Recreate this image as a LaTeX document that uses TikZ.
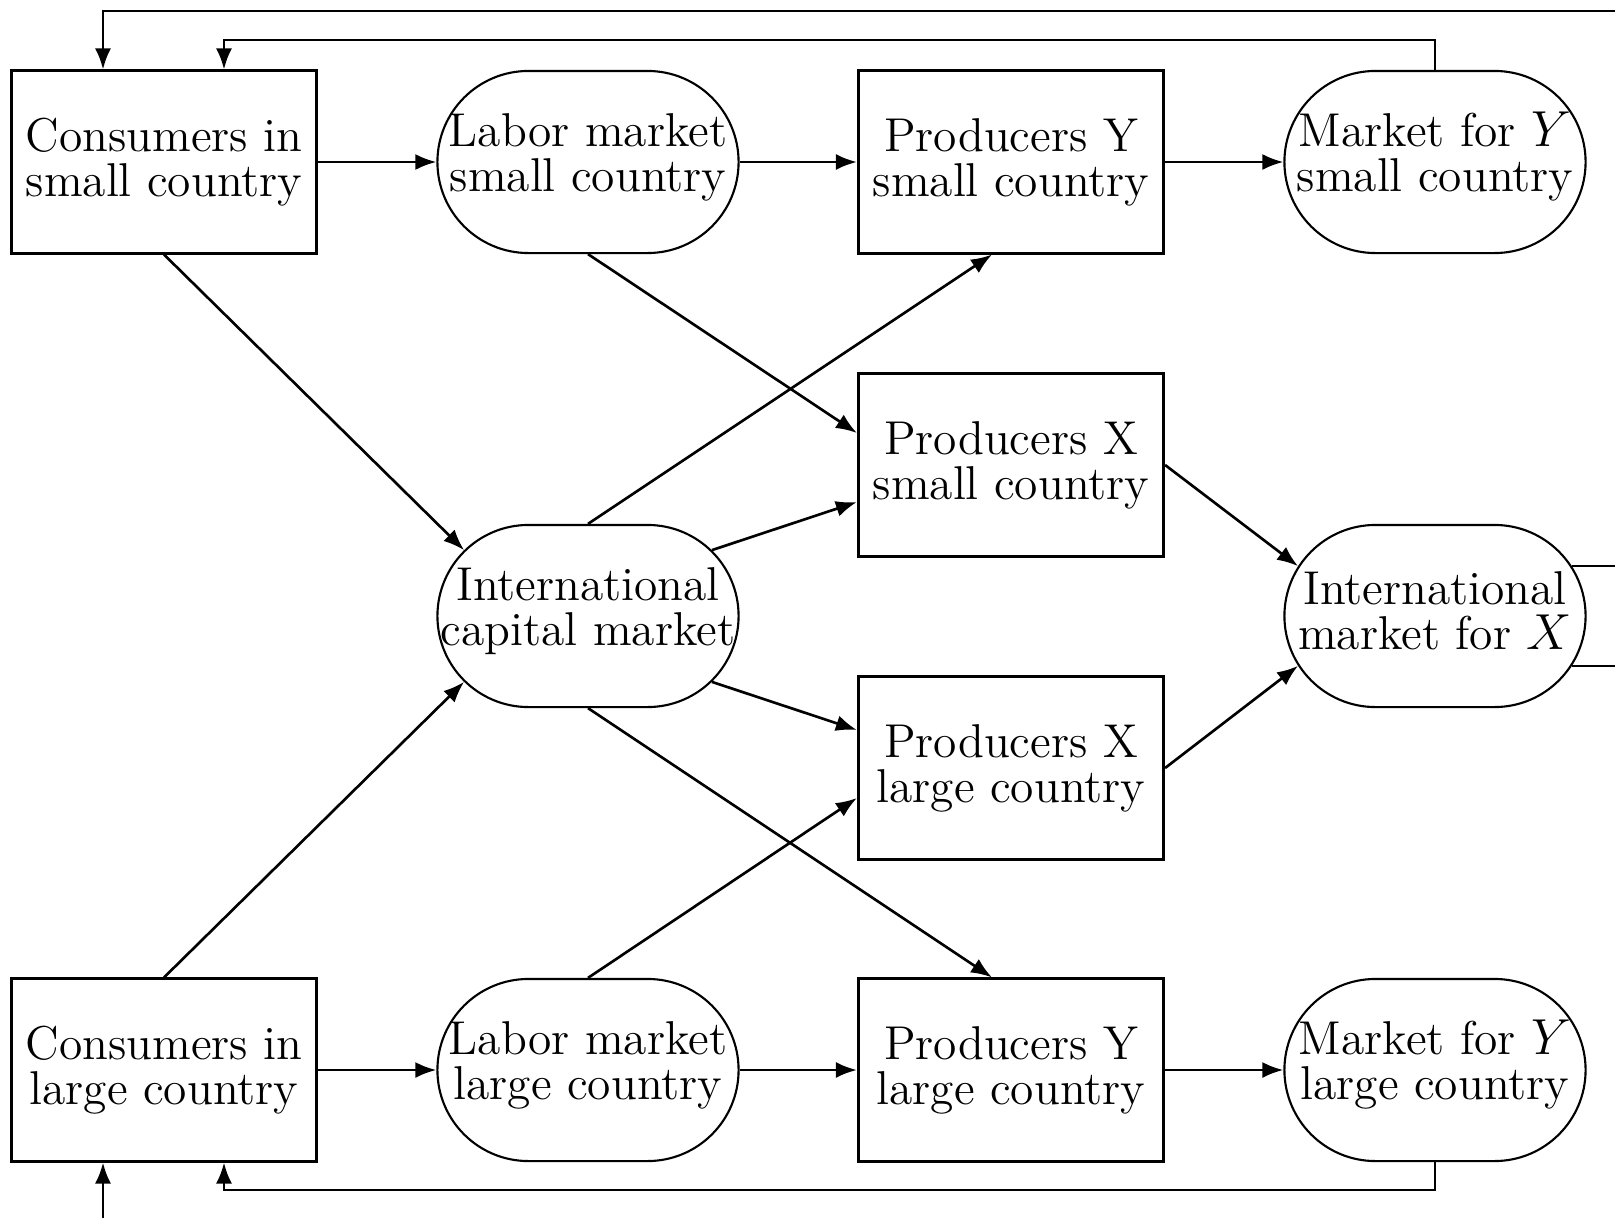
\documentclass[tikz,border=0pt]{standalone}
\usetikzlibrary{shapes.misc,arrows.meta,calc}
\newcommand{\twol}[2]{\raisebox{0.05cm}[\height][\depth]{\makebox[0pt]{\parbox{5cm}{\centering #1\\#2}}}}
\begin{document}
\begin{tikzpicture}[x=0.01cm,y=-0.01cm,
  txt/.style={font=\fontsize{13.5}{12.8}\selectfont},
  box/.style={txt, draw, line width=0.85pt, minimum width=3.05cm, minimum height=1.82cm, inner sep=0pt, align=center},
  mkt/.style={txt, draw, rounded rectangle, line width=0.6pt, minimum width=3.01cm, minimum height=1.82cm, inner sep=0pt},
  arr/.style={-{Latex[length=2.1mm,width=1.6mm]}, line width=0.75pt},
  ln/.style={line width=0.75pt}]
\useasboundingbox (0,0) rectangle (1615,1218);
\node[box] (cs) at (164,162) {Consumers in\\small country};
\node[mkt] (ls) at (588,162) {\twol{Labor market}{small country}};
\node[box] (pys) at (1011,162) {Producers Y\\small country};
\node[mkt] (mys) at (1435,162) {\twol{Market for $Y$}{small country}};
\node[box] (pxs) at (1011,465) {Producers X\\small country};
\node[mkt] (cap) at (588,616) {\twol{International}{capital market}};
\node[mkt] (mx) at (1435,616) {\twol{International}{market for $X$}};
\node[box] (pxl) at (1011,768) {Producers X\\large country};
\node[box] (cl) at (164,1070) {Consumers in\\large country};
\node[mkt] (ll) at (588,1070) {\twol{Labor market}{large country}};
\node[box] (pyl) at (1011,1070) {Producers Y\\large country};
\node[mkt] (myl) at (1435,1070) {\twol{Market for $Y$}{large country}};
\coordinate (tr) at (1615,11);
\coordinate (bl) at (103,1218);
% rows
\draw[arr] (cs.east) -- (ls.west);
\draw[arr] (ls.east) -- (pys.west);
\draw[arr] (pys.east) -- (mys.west);
\draw[arr] (cl.east) -- (ll.west);
\draw[arr] (ll.east) -- (pyl.west);
\draw[arr] (pyl.east) -- (myl.west);
% diagonals
\draw[arr] (cs.south) -- (cap.152);
\draw[arr] (cl.north) -- (cap.208);
\draw[arr] (ls.south) -- ($(pxs.west)+(0,-32)$);
\draw[arr] (cap.north) -- ($(pys.south)+(-19,0)$);
\draw[arr] (cap.28) -- ($(pxs.west)+(0,37)$);
\draw[arr] (cap.-28) -- ($(pxl.west)+(0,-38)$);
\draw[arr] (cap.south) -- ($(pyl.north)+(-19,0)$);
\draw[arr] (ll.north) -- ($(pxl.west)+(0,30)$);
\draw[arr] (pxs.east) -- (mx.160);
\draw[arr] (pxl.east) -- (mx.200);
% feedback
\draw[arr] (tr) -| ($(cs.north)+(-61,0)$);
\draw[arr] (mys.north) -- ++(0,-30) -| ($(cs.north)+(60,0)$);
\draw[arr] (bl) -- ($(cl.south)+(-61,0)$);
\draw[arr] (myl.south) -- ++(0,28) -| ($(cl.south)+(60,0)$);
\draw[ln] (mx.20) -- (mx.20 -| tr);
\draw[ln] (mx.-20) -- (mx.-20 -| tr);
\end{tikzpicture}
\end{document}
